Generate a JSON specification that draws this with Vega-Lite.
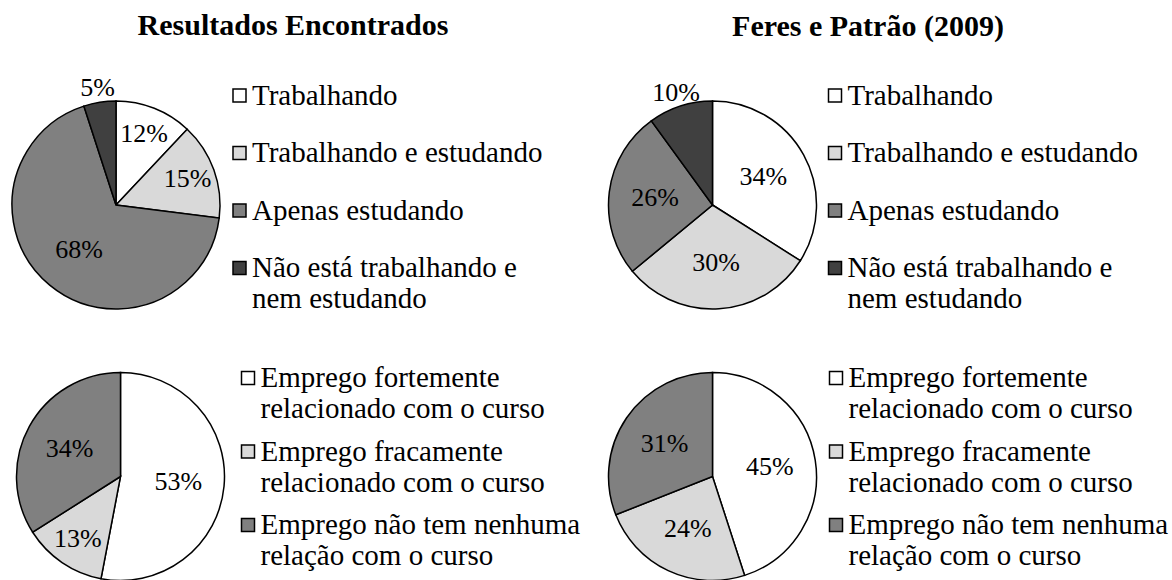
{
  "$schema": "https://vega.github.io/schema/vega-lite/v6.json",
  "padding": {"left": 9, "top": 11, "right": 0, "bottom": 0},
  "background": "white",
  "config": {
    "view": {"stroke": null},
    "font": "Liberation Serif",
    "title": {"font": "Liberation Serif", "fontSize": 30, "fontWeight": "bold", "color": "black", "anchor": "middle", "frame": "group", "baseline": "top"},
    "legend": {"orient": "none", "title": null, "padding": 0, "symbolType": "square", "symbolSize": 169, "symbolStrokeColor": "black", "symbolStrokeWidth": 1.5, "labelFont": "Liberation Serif", "labelFontSize": 29, "labelColor": "black", "labelLimit": 600, "labelOffset": -2},
    "arc": {"stroke": "black", "strokeWidth": 1.5},
    "text": {"font": "Liberation Serif", "fontSize": 26, "color": "black"}
  },
  "datasets": {
    "tl": [
      {"situacao": "Trabalhando", "valor": 0.12, "ordem": 1},
      {"situacao": "Trabalhando e estudando", "valor": 0.15, "ordem": 2},
      {"situacao": "Apenas estudando", "valor": 0.68, "ordem": 3},
      {"situacao": "Não está trabalhando e nem estudando", "valor": 0.05, "ordem": 4}
    ],
    "tr": [
      {"situacao": "Trabalhando", "valor": 0.34, "ordem": 1},
      {"situacao": "Trabalhando e estudando", "valor": 0.30, "ordem": 2},
      {"situacao": "Apenas estudando", "valor": 0.26, "ordem": 3},
      {"situacao": "Não está trabalhando e nem estudando", "valor": 0.10, "ordem": 4}
    ],
    "bl": [
      {"emprego": "Emprego fortemente relacionado com o curso", "valor": 0.53, "ordem": 1},
      {"emprego": "Emprego fracamente relacionado com o curso", "valor": 0.13, "ordem": 2},
      {"emprego": "Emprego não tem nenhuma relação com o curso", "valor": 0.34, "ordem": 3}
    ],
    "br": [
      {"emprego": "Emprego fortemente relacionado com o curso", "valor": 0.45, "ordem": 1},
      {"emprego": "Emprego fracamente relacionado com o curso", "valor": 0.24, "ordem": 2},
      {"emprego": "Emprego não tem nenhuma relação com o curso", "valor": 0.31, "ordem": 3}
    ]
  },
  "columns": 2,
  "spacing": {"row": 63.5, "column": 379.5},
  "bounds": "flush",
  "resolve": {"scale": {"color": "independent"}, "legend": {"color": "independent"}},
  "concat": [
    {
      "width": 208, "height": 208,
      "title": {"text": "Resultados Encontrados", "dx": 177, "offset": 34},
      "data": {"name": "tl"},
      "encoding": {
        "theta": {"field": "valor", "type": "quantitative", "stack": true},
        "order": {"field": "ordem", "type": "quantitative"}
      },
      "layer": [
        {
          "mark": {"type": "arc"},
          "encoding": {
            "color": {
              "field": "situacao", "type": "nominal",
              "scale": {"domain": ["Trabalhando", "Trabalhando e estudando", "Apenas estudando", "Não está trabalhando e nem estudando"], "range": ["#ffffff", "#d9d9d9", "#808080", "#404040"]},
              "legend": {
                "legendX": 213, "legendY": -20, "rowPadding": 27.5,
                "labelExpr": "datum.label == 'Não está trabalhando e nem estudando' ? ['Não está trabalhando e', 'nem estudando'] : datum.label",
                "encode": {"labels": {"update": {"lineHeight": {"value": 29}, "dy": {"signal": "indexof(datum.label, ' nem ') >= 0 ? 14.5 : 0"}}}}
              }
            }
          }
        },
        {
          "mark": {"type": "text", "radius": {"expr": "datum.valor < 0.11 ? 118 : datum.valor < 0.2 ? 76 : 58"}},
          "encoding": {
            "detail": {"field": "situacao", "type": "nominal"},
            "text": {"field": "valor", "type": "quantitative", "format": ".0%"}
          }
        }
      ]
    },
    {
      "width": 208, "height": 208,
      "title": {"text": "Feres e Patrão (2009)", "dx": 155.5, "offset": 38},
      "data": {"name": "tr"},
      "encoding": {
        "theta": {"field": "valor", "type": "quantitative", "stack": true},
        "order": {"field": "ordem", "type": "quantitative"}
      },
      "layer": [
        {
          "mark": {"type": "arc"},
          "encoding": {
            "color": {
              "field": "situacao", "type": "nominal",
              "scale": {"domain": ["Trabalhando", "Trabalhando e estudando", "Apenas estudando", "Não está trabalhando e nem estudando"], "range": ["#ffffff", "#d9d9d9", "#808080", "#404040"]},
              "legend": {
                "legendX": 212, "legendY": -20, "rowPadding": 27.5,
                "labelExpr": "datum.label == 'Não está trabalhando e nem estudando' ? ['Não está trabalhando e', 'nem estudando'] : datum.label",
                "encode": {"labels": {"update": {"lineHeight": {"value": 29}, "dy": {"signal": "indexof(datum.label, ' nem ') >= 0 ? 14.5 : 0"}}}}
              }
            }
          }
        },
        {
          "mark": {"type": "text", "radius": {"expr": "datum.valor < 0.11 ? 118 : datum.valor < 0.2 ? 76 : 58"}},
          "encoding": {
            "detail": {"field": "situacao", "type": "nominal"},
            "text": {"field": "valor", "type": "quantitative", "format": ".0%"}
          }
        }
      ]
    },
    {
      "width": 217, "height": 208,
      "data": {"name": "bl"},
      "encoding": {
        "theta": {"field": "valor", "type": "quantitative", "stack": true},
        "order": {"field": "ordem", "type": "quantitative"}
      },
      "layer": [
        {
          "mark": {"type": "arc"},
          "encoding": {
            "color": {
              "field": "emprego", "type": "nominal",
              "scale": {"domain": ["Emprego fortemente relacionado com o curso", "Emprego fracamente relacionado com o curso", "Emprego não tem nenhuma relação com o curso"], "range": ["#ffffff", "#d9d9d9", "#808080"]},
              "legend": {
                "legendX": 221.5, "legendY": -9, "rowPadding": 12.5,
                "labelExpr": "indexof(datum.label, ' rela') > 0 ? [substring(datum.label, 0, indexof(datum.label, ' rela')), substring(datum.label, indexof(datum.label, ' rela') + 1)] : datum.label",
                "encode": {"labels": {"update": {"lineHeight": {"value": 30}, "dy": {"value": 15}}}}
              }
            }
          }
        },
        {
          "mark": {"type": "text", "radius": {"expr": "datum.valor < 0.11 ? 118 : datum.valor < 0.2 ? 76 : 58"}},
          "encoding": {
            "detail": {"field": "emprego", "type": "nominal"},
            "text": {"field": "valor", "type": "quantitative", "format": ".0%"}
          }
        }
      ]
    },
    {
      "width": 208, "height": 208,
      "data": {"name": "br"},
      "encoding": {
        "theta": {"field": "valor", "type": "quantitative", "stack": true},
        "order": {"field": "ordem", "type": "quantitative"}
      },
      "layer": [
        {
          "mark": {"type": "arc"},
          "encoding": {
            "color": {
              "field": "emprego", "type": "nominal",
              "scale": {"domain": ["Emprego fortemente relacionado com o curso", "Emprego fracamente relacionado com o curso", "Emprego não tem nenhuma relação com o curso"], "range": ["#ffffff", "#d9d9d9", "#808080"]},
              "legend": {
                "legendX": 213, "legendY": -9, "rowPadding": 12.5,
                "labelExpr": "indexof(datum.label, ' rela') > 0 ? [substring(datum.label, 0, indexof(datum.label, ' rela')), substring(datum.label, indexof(datum.label, ' rela') + 1)] : datum.label",
                "encode": {"labels": {"update": {"lineHeight": {"value": 30}, "dy": {"value": 15}}}}
              }
            }
          }
        },
        {
          "mark": {"type": "text", "radius": {"expr": "datum.valor < 0.11 ? 118 : datum.valor < 0.2 ? 76 : 58"}},
          "encoding": {
            "detail": {"field": "emprego", "type": "nominal"},
            "text": {"field": "valor", "type": "quantitative", "format": ".0%"}
          }
        }
      ]
    }
  ]
}
